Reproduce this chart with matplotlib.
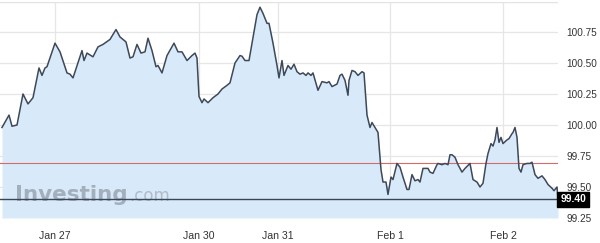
import matplotlib
matplotlib.use("Agg")
import matplotlib.pyplot as plt

# time positions (chart units) and prices
t = [2, 9, 12, 17, 23, 28, 33, 39, 42, 45, 47, 55, 60, 67, 70, 73, 82, 84, 87, 93,
     98, 103, 110, 116, 120, 126, 130, 133, 137, 141, 145, 148, 152, 156, 158, 162,
     167, 174, 178, 182, 187, 192, 195, 197, 199, 202, 204, 208, 213, 218, 222, 227,
     230, 235, 240, 242, 245, 249, 252, 257, 260, 263, 267, 269, 273, 277, 279, 282,
     284, 288, 291, 294, 297, 300, 303, 306, 308, 311, 313, 318, 322, 327, 329, 332,
     337, 340, 342, 345, 348, 349, 352, 355, 358, 362, 364, 367, 370, 372, 375, 378,
     381, 383, 386, 388, 391, 393, 397, 400, 403, 407, 409, 412, 415, 418, 420, 423,
     428, 430, 433, 437, 438, 442, 445, 448, 450, 452, 455, 458, 462, 465, 470, 473,
     477, 480, 483, 486, 488, 491, 493, 495, 497, 499, 501, 503, 507, 509, 512, 513,
     515, 517, 519, 521, 523, 527, 530, 532, 535, 538, 542, 545, 548, 552, 554, 557, 558]
price = [99.98, 100.08, 99.99, 100.00, 100.25, 100.17, 100.22, 100.46, 100.40, 100.46,
         100.47, 100.66, 100.59, 100.42, 100.41, 100.38, 100.60, 100.52, 100.58, 100.55,
         100.63, 100.65, 100.69, 100.77, 100.71, 100.67, 100.54, 100.55, 100.65, 100.58,
         100.59, 100.70, 100.60, 100.47, 100.48, 100.42, 100.56, 100.66, 100.59, 100.59,
         100.52, 100.56, 100.58, 100.54, 100.23, 100.18, 100.21, 100.18, 100.22, 100.25,
         100.29, 100.32, 100.34, 100.50, 100.56, 100.555, 100.52, 100.52, 100.66, 100.89,
         100.95, 100.90, 100.82, 100.82, 100.66, 100.48, 100.38, 100.52, 100.40, 100.48,
         100.45, 100.49, 100.43, 100.41, 100.42, 100.40, 100.42, 100.40, 100.42, 100.28,
         100.35, 100.34, 100.35, 100.31, 100.33, 100.40, 100.41, 100.36, 100.24, 100.36,
         100.44, 100.43, 100.40, 100.43, 100.42, 100.08, 99.98, 100.02, 99.98, 99.94,
         99.64, 99.54, 99.54, 99.44, 99.58, 99.56, 99.69, 99.66, 99.58, 99.48,
         99.48, 99.60, 99.55, 99.56, 99.54, 99.65, 99.65, 99.62, 99.61, 99.68,
         99.69, 99.68, 99.69, 99.68, 99.76, 99.76, 99.74, 99.68, 99.62, 99.65,
         99.69, 99.56, 99.54, 99.50, 99.53, 99.69, 99.77, 99.85, 99.83, 99.88,
         99.98, 99.86, 99.90, 99.85, 99.88, 99.89, 99.93, 99.94, 99.98, 99.90,
         99.65, 99.62, 99.68, 99.69, 99.69, 99.70, 99.60, 99.57, 99.59, 99.56,
         99.52, 99.49, 99.47, 99.50, 99.41]

tick_pos = [55, 199, 278, 390, 503]
tick_labels = ["Jan 27", "Jan 30", "Jan 31", "Feb 1", "Feb 2"]
y_ticks = [99.25, 99.50, 99.75, 100.00, 100.25, 100.50, 100.75]
y_tick_labels = ["99.25", "99.50", "99.75", "100.00", "100.25", "100.50", "100.75"]
prev_close = 99.69
last_price = 99.40
y_bottom, y_top = 99.25, 100.992
x_left, x_right = 0, 558

W, H = 600, 243
fig = plt.figure(figsize=(W / 100, H / 100), dpi=100)
fig.patch.set_facecolor("white")
ax = fig.add_axes([0.0, 1 - 218 / H, 558 / W, 216 / H])
ax.set_facecolor("white")
ax.set_xlim(x_left, x_right)
ax.set_ylim(y_bottom, y_top)

for s in ax.spines.values():
    s.set_visible(False)
ax.axhline(y_top, color="#e3e3e3", lw=1, zorder=0)

ax.set_yticks(y_ticks)
ax.set_xticks(tick_pos)
ax.grid(True, color="#e6e6e6", lw=0.9, zorder=0)
ax.set_axisbelow(True)

ax.fill_between(t, price, y_bottom, color="#d8e9fa", lw=0, zorder=1)

# watermark
ax.text(15, 99.385, "Investing", family="DejaVu Sans", fontweight="bold", fontsize=15.5,
        color="#9fa9b6", alpha=0.9, zorder=2, va="baseline", ha="left")
ax.text(129, 99.385, ".com", family="DejaVu Sans", fontsize=12, color="#aeb7c2",
        alpha=0.9, zorder=2, va="baseline", ha="left")

ax.axhline(prev_close, color="#d46a6a", lw=0.8, zorder=3)
ax.axhline(last_price, color="#3a4656", lw=1.0, zorder=3)
ax.plot(t, price, color="#3d4859", lw=1.1, zorder=4)

ax.yaxis.tick_right()
ax.set_yticklabels(y_tick_labels)
ax.set_xticklabels(tick_labels)
ax.tick_params(axis="y", length=0, pad=6, labelsize=7.2, labelcolor="#333333")
ax.tick_params(axis="x", length=0, pad=9, labelsize=7.6, labelcolor="#333333")
for lab in ax.get_xticklabels() + ax.get_yticklabels():
    lab.set_family("Liberation Sans")

ax.text(1.004, last_price, f"{last_price:.2f}", transform=ax.get_yaxis_transform(),
        ha="left", va="center", fontsize=7.4, fontweight="bold", color="white",
        family="Liberation Sans", zorder=6,
        bbox=dict(boxstyle="square,pad=0.28", fc="black", ec="black"),
        clip_on=False)

fig.savefig("out.png", dpi=100)
